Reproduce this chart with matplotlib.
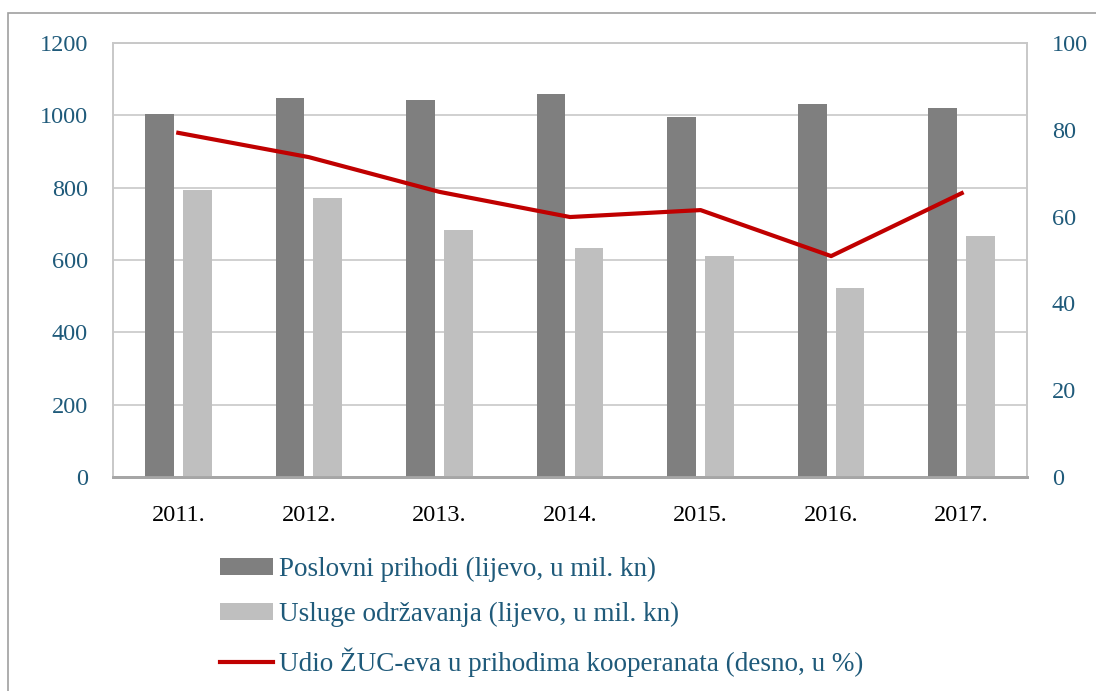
import matplotlib
matplotlib.use("Agg")
import matplotlib.pyplot as plt
import numpy as np
from matplotlib.patches import Rectangle

godine = ["2011.", "2012.", "2013.", "2014.", "2015.", "2016.", "2017."]
poslovni_prihodi = [1003, 1048, 1042, 1059, 995, 1031, 1020]
usluge_odrzavanja = [793, 771, 683, 633, 611, 523, 666]
udio_zuc = [79.3, 73.7, 65.7, 59.9, 61.5, 50.9, 65.4]

plava = "#1F5A7A"
plt.rcParams["font.family"] = ["Liberation Serif", "DejaVu Serif"]

fig = plt.figure(figsize=(10.96, 6.91), dpi=100)
ax = fig.add_axes([113 / 1096, 1 - 477 / 691, 914 / 1096, 434 / 691])
ax2 = ax.twinx()

# okvir oko cijelog grafikona
fig.patches.append(Rectangle((8 / 1096, -0.1), 1.2, 1 - 13 / 691 + 0.1,
                             transform=fig.transFigure, fill=False,
                             edgecolor="#a0a0a0", linewidth=1.2))

x = np.arange(len(godine))
w = 0.22
ax.bar(x - 0.145, poslovni_prihodi, w, color="#7f7f7f",
       label="Poslovni prihodi (lijevo, u mil. kn)", zorder=3)
ax.bar(x + 0.145, usluge_odrzavanja, w, color="#bfbfbf",
       label="Usluge održavanja (lijevo, u mil. kn)", zorder=3)
ax2.plot(x, udio_zuc, color="#c00000", linewidth=3,
         label="Udio ŽUC-eva u prihodima kooperanata (desno, u %)")

ax.set_xlim(-0.5, len(godine) - 0.5)
ax.set_ylim(0, 1200)
ax2.set_ylim(0, 100)
ax.set_yticks(range(0, 1201, 200))
ax2.set_yticks(range(0, 101, 20))
ax.grid(axis="y", color="#c8c8c8", linewidth=1.2, zorder=0)
ax.set_xticks(x)
ax.set_xticklabels(godine)

for a in (ax, ax2):
    for s in a.spines.values():
        s.set_color("#c8c8c8")
        s.set_linewidth(1.2)
    a.spines["bottom"].set_color("#a6a6a6")
    a.spines["bottom"].set_linewidth(2)
    a.tick_params(length=0, labelsize=17.5)

ax.tick_params(axis="y", colors=plava, pad=18)
ax2.tick_params(axis="y", colors=plava, pad=18)
ax.tick_params(axis="x", colors="black", pad=20)

h1, l1 = ax.get_legend_handles_labels()
h2, l2 = ax2.get_legend_handles_labels()
leg = fig.legend(h1 + h2, l1 + l2, loc="upper left",
                 bbox_to_anchor=(220 / 1096, 1 - 557 / 691), frameon=False,
                 fontsize=19.5, labelcolor=plava, handlelength=1.95,
                 handleheight=0.6, handletextpad=0.22, labelspacing=0.74,
                 borderpad=0, borderaxespad=0)

fig.savefig("out.png", dpi=100)
